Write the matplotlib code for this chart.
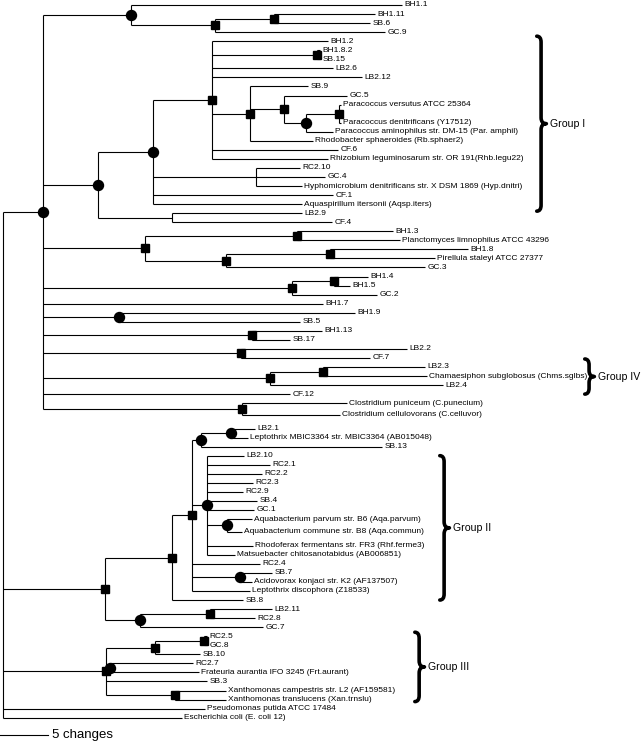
import matplotlib
matplotlib.use("Agg")
import matplotlib.pyplot as plt
from matplotlib.path import Path
from matplotlib.patches import PathPatch

plt.rcParams['font.family'] = ['Liberation Sans', 'DejaVu Sans']

# tree nodes: (depth, support, [children]); leaves: (name, depth)
# depth = distance from root in changes, support: "c" circle, "s" square, "" none
group1 = (15.63, "c", [
    (21.77, "s", [
        ("BH1.2", 33.85),
        (32.71, "s", [("BH1.8.2", 33.02), ("SB.15", 33.02)]),
        ("LB2.6", 34.38),
        ("LB2.12", 37.4),
        (25.73, "s", [
            ("SB.9", 31.77),
            (29.27, "s", [
                ("GC.5", 35.83),
                (31.56, "c", [
                    (35.0, "s", [("Paracoccus versutus ATCC 25364", 35.2),
                                 ("Paracoccus denitrificans (Y17512)", 35.2)]),
                    ("Paracoccus aminophilus str. DM-15 (Par. amphil)", 34.38)])]),
            ("Rhodobacter sphaeroides (Rb.sphaer2)", 32.29)]),
        ("CF.6", 34.9),
        ("Rhizobium leguminosarum str. OR 191(Rhb.legu22)", 33.85)]),
    (26.35, "", [("RC2.10", 30.94), ("GC.4", 33.54),
                 ("Hyphomicrobium denitrificans str. X DSM 1869 (Hyp.dnitri)", 31.15)]),
    ("CF.1", 34.38),
    ("Aquaspirillum itersonii (Aqsp.iters)", 31.15)])

clade_a = (4.17, "c", [
    (13.33, "c", [("BH1.1", 41.56),
                  (22.08, "s", [(28.23, "s", [("BH1.11", 38.75), ("SB.6", 38.23)]),
                                ("GC.9", 39.79)])]),
    (9.9, "c", [group1, (17.6, "", [("LB2.9", 31.15), ("CF.4", 34.27)])]),
    (14.79, "s", [
        (30.6, "s", [("BH1.3", 40.6), ("Planctomyces limnophilus ATCC 43296", 41.35)]),
        (23.23, "s", [(34.06, "s", [("BH1.8", 48.44), ("Pirellula staleyi ATCC 27377", 45.0)]),
                      ("GC.3", 43.96)])]),
    (30.1, "s", [(34.48, "s", [("BH1.4", 38.02), ("BH1.5", 36.15)]), ("GC.2", 38.96)]),
    ("BH1.7", 33.33),
    (12.08, "c", [("BH1.9", 36.67), ("SB.5", 30.94)]),
    (25.94, "s", [("BH1.13", 33.23), ("SB.17", 29.9)]),
    (24.79, "s", [("LB2.2", 42.08), ("CF.7", 38.23)]),
    (27.81, "s", [(33.33, "s", [("LB2.3", 43.96), ("Chamaesiphon subglobosus (Chms.sglbs)", 44.17)]),
                  ("LB2.4", 45.83)]),
    ("CF.12", 29.9),
    (24.9, "s", [("Clostridium puniceum (C.punecium)", 35.83),
                 ("Clostridium cellulovorans (C.celluvor)", 35.1)])])

group2 = (10.63, "s", [
    (17.6, "s", [
        (19.69, "s", [
            (20.63, "c", [(23.75, "c", [("LB2.1", 26.25),
                                        ("Leptothrix MBIC3364 str. MBIC3364 (AB015048)", 25.52)]),
                          ("SB.13", 39.48)]),
            (21.25, "c", [("LB2.10", 25.1), ("RC2.1", 27.81), ("RC2.2", 26.98), ("RC2.3", 26.04),
                          ("RC2.9", 25.0), ("SB.4", 26.46), ("GC.1", 26.15),
                          (23.33, "c", [("Aquabacterium parvum str. B6 (Aqa.parvum)", 25.94),
                                        ("Aquabacterium commune str. B8 (Aqa.commun)", 24.9)]),
                          ("Rhodoferax fermentans str. FR3 (Rhf.ferme3)", 26.04),
                          ("Matsuebacter chitosanotabidus (AB006851)", 24.17)]),
            ("RC2.4", 26.77),
            (24.69, "c", [("SB.7", 28.02), ("Acidovorax konjaci str. K2 (AF137507)", 25.94)]),
            ("Leptothrix discophora (Z18533)", 25.73)]),
        ("SB.8", 25.0)]),
    (14.27, "c", [(21.56, "s", [("LB2.11", 28.02), ("RC2.8", 26.25)]), ("GC.7", 27.08)])])

group3 = (10.73, "s", [
    (15.83, "s", [(20.94, "s", [("RC2.5", 21.25), ("GC.8", 21.25)]), ("SB.10", 20.52)]),
    (11.15, "c", [("RC2.7", 19.79), ("Frateuria aurantia IFO 3245 (Frt.aurant)", 20.42)]),
    ("SB.3", 21.25),
    (17.92, "s", [("Xanthomonas campestris str. L2 (AF159581)", 23.2),
                  ("Xanthomonas translucens (Xan.trnslu)", 23.2)])])

tree = (0.0, "", [clade_a, group2, group3,
                  ("Pseudomonas putida ATCC 17484", 21.04),
                  ("Escherichia coli (E. coli 12)", 18.65)])

# bracketed groups: label, first leaf, last leaf
group_names = ["Group I", "Group IV", "Group II", "Group III"]
group_first = ["BH1.2", "LB2.3", "LB2.10", "RC2.5"]
group_last = ["LB2.9", "LB2.4", "SB.8", "Xanthomonas translucens (Xan.trnslu)"]

scale_changes = 5

# ---- layout ----
row_step = 9.05
row_top = 5
# extra blank space (in rows) before some leaves
row_gap = {"Paracoccus denitrificans (Y17512)": 1.0,
           "Clostridium cellulovorans (C.celluvor)": 0.3,
           "LB2.1": 0.5,
           "Aquabacterium commune str. B8 (Aqa.commun)": 0.4,
           "Rhodoferax fermentans str. FR3 (Rhf.ferme3)": 0.55}
brace_x = [55.6, 60.6, 45.5, 42.9]
brace_pad = [(5, -2), (8, 9), (0, 0), (4, 2)]
px = 9.6  # pixels per change


def leaf_order(node, out):
    if isinstance(node[0], str):
        out.append(node[0])
    else:
        for k in node[2]:
            leaf_order(k, out)
    return out


names = leaf_order(tree, [])
leaf_y = {}
shift = 0.0
for i, n in enumerate(names):
    shift += row_gap.get(n, 0)
    leaf_y[n] = row_top + row_step * (i + shift)

fig = plt.figure(figsize=(6.41, 7.43), dpi=100)
ax = fig.add_axes([0, 0, 1, 1])
ax.set_xlim(-3 / px, 638 / px)
ax.set_ylim(743, 0)
ax.axis("off")

lw = 0.8


def draw(node):
    if isinstance(node[0], str):
        name, d = node
        y = leaf_y[name]
        ax.text(d + 0.25, y, name, fontsize=6.0, va="center", ha="left")
        return d, y
    d, sup, kids = node
    pos = [draw(k) for k in kids]
    ys = [p[1] for p in pos]
    ax.plot([d, d], [ys[0], ys[-1]], color="black", lw=lw, solid_capstyle="butt")
    for kd, ky in pos:
        ax.plot([d, kd], [ky, ky], color="black", lw=lw, solid_capstyle="butt")
    y = (ys[0] + ys[-1]) / 2
    if sup == "s":
        ax.plot(d, y, marker="s", ms=6.3, color="black", zorder=5)
    elif sup == "c":
        ax.plot(d, y, marker="o", ms=7.2, color="black", zorder=5)
    return d, y


draw(tree)


def brace(x0, y0, y1, w=1.0, h=6):
    ym = (y0 + y1) / 2
    xm = x0 + w * 0.45
    verts = [(x0, y0), (xm, y0), (xm, y0 + h),
             (xm, ym - h), (xm, ym), (x0 + w, ym),
             (xm, ym), (xm, ym + h),
             (xm, y1 - h), (xm, y1), (x0, y1)]
    codes = [Path.MOVETO, Path.CURVE3, Path.CURVE3,
             Path.LINETO, Path.CURVE3, Path.CURVE3,
             Path.CURVE3, Path.CURVE3,
             Path.LINETO, Path.CURVE3, Path.CURVE3]
    ax.add_patch(PathPatch(Path(verts, codes), fill=False, lw=2.6, color="black",
                           capstyle="round", joinstyle="round"))
    return ym


for g, f, l, bx, (pt, pb) in zip(group_names, group_first, group_last, brace_x, brace_pad):
    ym = brace(bx, leaf_y[f] - pt, leaf_y[l] + pb)
    ax.text(bx + 1.4, ym, g, fontsize=7.6, va="center", ha="left")

# scale bar
ax.plot([-3 / px, -3 / px + scale_changes], [735, 735], color="black", lw=lw)
ax.text(-3 / px + scale_changes + 0.4, 735, "%d changes" % scale_changes, fontsize=9.5,
        va="center", ha="left")

fig.savefig("out.png", dpi=100)
